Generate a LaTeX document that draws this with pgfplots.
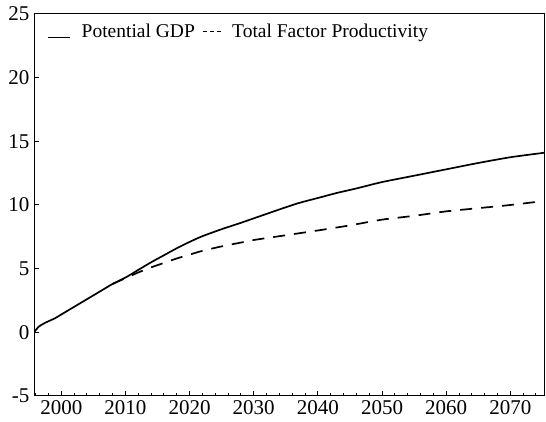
\documentclass[border=0pt]{standalone}
\usepackage{pgfplots}
\pgfplotsset{compat=1.18}
\usepackage{fontspec}
\setmainfont{Liberation Serif}

\begin{document}
\begin{tikzpicture}
\begin{axis}[
  scale only axis,
  width=510pt, height=382pt,
  xmin=1995.75, xmax=2075.25,
  ymin=-5, ymax=25,
  xtick={2000,2010,...,2070},
  ytick={-5,0,...,25},
  minor xtick={1996,1998,...,2074},
  tick pos=left,
  tick align=inside,
  major tick length=5pt,
  minor tick length=3pt,
  every tick/.style={black, line width=1pt},
  axis line style={line width=1pt},
  /pgf/number format/assume math mode=true,
  /pgf/number format/1000 sep={},
  ticklabel style={font=\fontsize{21}{23}\selectfont},
  yticklabel style={xshift=-1pt},
  xticklabel style={yshift=-1pt},
  legend columns=-1,
  legend style={draw=none, fill=none, at={(0.02,0.985)}, anchor=north west,
    font=\fontsize{19.5}{22}\selectfont,
    /tikz/every odd column/.append style={column sep=9pt},
    /tikz/every even column/.append style={column sep=5pt}},
]
\addplot[black, line width=1.7pt, smooth, tension=0.4,
  legend image code/.code={\draw[black, line width=1.3pt] (0pt,-6pt) -- (22pt,-6pt);}]
  coordinates {
  (1995.75,0.0) (1996.5,0.45) (1997.5,0.75) (1999,1.1) (2000,1.4)
  (2002,2.0) (2004,2.6) (2006,3.2) (2008,3.8) (2010,4.3)
  (2012,4.9) (2014,5.5) (2016,6.05) (2018,6.6) (2020,7.1)
  (2022,7.55) (2025,8.1) (2028,8.6) (2030,8.95) (2034,9.65)
  (2037,10.15) (2040,10.55) (2043,10.95) (2046,11.3) (2050,11.8)
  (2055,12.3) (2060,12.8) (2065,13.3) (2070,13.75) (2075.25,14.1)
  };
\addlegendentry{Potential GDP}
\addplot[black, line width=1.7pt, smooth, tension=0.4, dash pattern=on 12pt off 9pt,
  legend image code/.code={\draw[black, line width=1.3pt, dash pattern=on 4pt off 3pt] (0pt,0pt) -- (18pt,0pt);}]
  coordinates {
  (2008,3.8) (2010,4.25) (2012,4.7) (2014,5.1) (2016,5.45)
  (2018,5.8) (2020,6.1) (2022,6.4) (2025,6.75) (2028,7.05)
  (2030,7.25) (2034,7.55) (2040,8.0) (2045,8.4) (2050,8.85)
  (2055,9.15) (2060,9.5) (2065,9.75) (2070,10.0) (2075,10.3)
  };
\addlegendentry{Total Factor Productivity}
\end{axis}
\pgfresetboundingbox
\path ([xshift=-34pt,yshift=-26pt]current axis.south west) rectangle ([xshift=2pt,yshift=14pt]current axis.north east);
\end{tikzpicture}
\end{document}
